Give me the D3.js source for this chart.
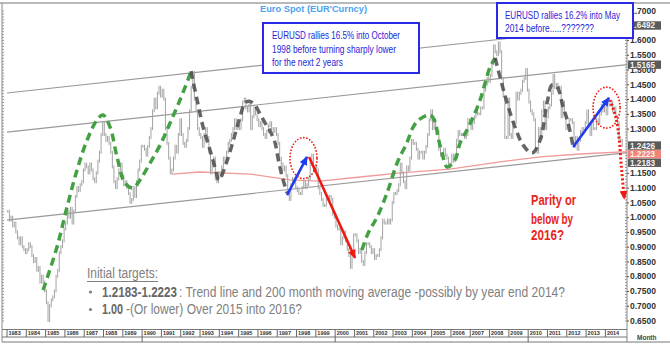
<!DOCTYPE html>
<html>
<head>
<meta charset="utf-8">
<script src="https://cdn.jsdelivr.net/npm/d3@7"></script>
<style>
  body { margin: 0; background: #fff; }
  svg { display: block; }
</style>
</head>
<body>
<script>
// monthly closes (Jan 1983 .. Nov 2014)
const close1980s = [
  1.02, 0.99, 1.00, 0.97, 0.98, 0.95, 0.93, 0.91, 0.93, 0.90, 0.89, 0.88,
  0.89, 0.91, 0.90, 0.87, 0.85, 0.86, 0.82, 0.83, 0.78, 0.80, 0.78, 0.75,
  0.71, 0.65, 0.70, 0.72, 0.73, 0.75, 0.80, 0.82, 0.88, 0.90, 0.92, 0.96,
  0.98, 1.02, 1.00, 1.03, 0.98, 1.02, 1.07, 1.10, 1.09, 1.11, 1.12, 1.16,
  1.18, 1.17, 1.15, 1.18, 1.16, 1.13, 1.12, 1.15, 1.19, 1.22, 1.28, 1.32,
  1.28, 1.26, 1.27, 1.25, 1.22, 1.17, 1.12, 1.10, 1.13, 1.16, 1.18, 1.14,
  1.11, 1.12, 1.10, 1.08, 1.05, 1.06, 1.10, 1.07, 1.12, 1.16, 1.19, 1.24
];
const close1990s = [
  1.24, 1.23, 1.21, 1.24, 1.27, 1.30, 1.36, 1.40, 1.37, 1.42, 1.44, 1.41,
  1.43, 1.40, 1.30, 1.25, 1.20, 1.15, 1.16, 1.20, 1.24, 1.22, 1.28, 1.33,
  1.28, 1.25, 1.24, 1.26, 1.30, 1.36, 1.44, 1.49, 1.40, 1.36, 1.30, 1.28,
  1.27, 1.24, 1.28, 1.30, 1.27, 1.22, 1.15, 1.18, 1.20, 1.13, 1.12, 1.15,
  1.14, 1.17, 1.20, 1.19, 1.22, 1.25, 1.26, 1.28, 1.30, 1.33, 1.30, 1.31,
  1.30, 1.33, 1.39, 1.40, 1.37, 1.36, 1.38, 1.30, 1.34, 1.37, 1.35, 1.33,
  1.31, 1.32, 1.30, 1.28, 1.27, 1.29, 1.31, 1.32, 1.30, 1.29, 1.30, 1.28,
  1.25, 1.20, 1.18, 1.16, 1.17, 1.14, 1.08, 1.06, 1.11, 1.13, 1.12, 1.10,
  1.09, 1.08, 1.08, 1.10, 1.12, 1.10, 1.11, 1.13, 1.18, 1.21, 1.16, 1.17,
  1.16, 1.10, 1.08, 1.06, 1.04, 1.04, 1.07, 1.06, 1.07, 1.06, 1.01, 1.00
];
const close2000s = [
  0.97, 0.96, 0.96, 0.91, 0.93, 0.95, 0.92, 0.89, 0.87, 0.83, 0.87, 0.94,
  0.94, 0.92, 0.88, 0.89, 0.85, 0.84, 0.88, 0.91, 0.91, 0.90, 0.88, 0.89,
  0.86, 0.87, 0.87, 0.89, 0.93, 0.99, 0.98, 0.98, 0.99, 0.98, 0.99, 1.05,
  1.08, 1.08, 1.09, 1.11, 1.18, 1.15, 1.12, 1.10, 1.17, 1.16, 1.20, 1.26,
  1.25, 1.25, 1.23, 1.20, 1.22, 1.22, 1.20, 1.22, 1.24, 1.28, 1.33, 1.36,
  1.30, 1.33, 1.30, 1.29, 1.23, 1.21, 1.21, 1.23, 1.21, 1.20, 1.17, 1.18,
  1.21, 1.19, 1.21, 1.26, 1.29, 1.28, 1.28, 1.28, 1.27, 1.28, 1.33, 1.32,
  1.30, 1.32, 1.34, 1.36, 1.35, 1.35, 1.37, 1.37, 1.43, 1.45, 1.47, 1.46,
  1.48, 1.52, 1.58, 1.56, 1.55, 1.59, 1.56, 1.47, 1.41, 1.27, 1.27, 1.40,
  1.28, 1.27, 1.32, 1.32, 1.42, 1.40, 1.42, 1.43, 1.46, 1.47, 1.50, 1.43
];
const close2010s = [
  1.39, 1.36, 1.35, 1.33, 1.23, 1.22, 1.30, 1.27, 1.36, 1.39, 1.30, 1.34,
  1.37, 1.38, 1.42, 1.48, 1.44, 1.45, 1.44, 1.44, 1.34, 1.39, 1.35, 1.30,
  1.31, 1.33, 1.33, 1.32, 1.24, 1.27, 1.23, 1.26, 1.29, 1.30, 1.30, 1.32,
  1.36, 1.31, 1.28, 1.32, 1.30, 1.30, 1.33, 1.32, 1.35, 1.38, 1.36, 1.38,
  1.35, 1.38, 1.38, 1.39, 1.36, 1.37, 1.34, 1.32, 1.26, 1.26, 1.2426
];

// 200 month moving average (red), [year, value]
const movingAvg = [[1991.55,1.146],[1993.0,1.153],[1995.6,1.146],[1997.66,1.126],[1999.2,1.122],
  [2001.3,1.136],[2003.4,1.150],[2005.95,1.163],[2008.54,1.187],[2010.62,1.204],[2012.69,1.214],[2015.12,1.2223]];

// trend channel: value at start (1983) and at the right edge
const channelYears = [1983, 2015.12];
const channelLower = [0.990, 1.2183];
const channelMiddle = [1.288, 1.5165];
const channelUpper = [1.4205, 1.6492];

// hand drawn swings
const greenSwing1 = [[1984.87,0.753],[1985.59,0.899],[1986.11,1.034],[1986.63,1.160],[1987.15,1.261],[1987.66,1.329],
  [1987.97,1.346],[1988.34,1.305],[1988.70,1.204],[1989.11,1.116],[1989.53,1.099],[1989.89,1.126],[1990.41,1.183],
  [1990.93,1.244],[1991.45,1.319],[1991.96,1.397],[1992.43,1.475],[1992.53,1.495]];
const blackSwing1 = [[1992.53,1.495],[1992.85,1.397],[1993.16,1.305],[1993.52,1.227],[1993.78,1.167],[1993.98,1.126],
  [1994.36,1.183],[1994.73,1.261],[1995.07,1.339],[1995.33,1.387],[1995.54,1.393],[1995.80,1.383],[1996.06,1.356],
  [1996.37,1.319],[1996.63,1.292],[1996.89,1.251],[1997.04,1.200],[1997.25,1.139],[1997.51,1.082]];
const greenSwing2 = [[2001.39,0.889],[2001.71,0.946],[2002.17,1.000],[2002.69,1.082],[2003.21,1.183],[2003.73,1.254],
  [2004.04,1.305],[2004.40,1.333],[2004.92,1.346],[2005.18,1.322],[2005.33,1.271],[2005.54,1.217],[2005.80,1.170],
  [2006.21,1.194],[2006.47,1.251],[2006.83,1.295],[2007.15,1.339],[2007.51,1.397],[2007.77,1.454],[2008.03,1.509],[2008.29,1.539]];
const blackSwing2 = [[2008.29,1.539],[2008.54,1.475],[2008.91,1.387],[2009.32,1.305],[2009.74,1.244],[2010.20,1.217],
  [2010.62,1.261],[2010.98,1.387],[2011.24,1.448],[2011.50,1.441],[2011.81,1.373],[2012.07,1.319],[2012.33,1.238]];

const arrowUp1998 = [[1997.51,1.075],[1998.54,1.204]];
const arrowDown2000 = [[1998.65,1.204],[2001.03,0.862]];
const arrowUp2014 = [[2012.33,1.238],[2014.19,1.404]];
const parityPath = [[2014.24,1.397],[2014.55,1.336],[2014.72,1.261],[2014.82,1.177],[2014.98,1.062]];
const circleCentres = [[1998.36,1.200],[2014.06,1.371]];

const priceTicks = [1.70,1.60,1.55,1.50,1.45,1.40,1.35,1.30,1.15,1.10,1.05,1.00,0.95,0.90,0.85,0.80,0.75,0.70,0.65];
const lastValues = [1.6492, 1.5165, 1.2426, 1.2223, 1.2183];
const lastColors = ["#5a5a5a", "#5a5a5a", "#5a5a5a", "#f08378", "#5a5a5a"];
const yearTicks = [1983,1984,1985,1986,1987,1988,1989,1990,1991,1992,1993,1994,1995,1996,1997,1998,
  1999,2000,2001,2002,2003,2004,2005,2006,2007,2008,2009,2010,2011,2012,2013,2014];
const decadeTicks = [1990, 2000, 2010];

const width = 670, height = 345;
const sans = "'Liberation Sans', Arial, sans-serif";
const narrow = "'Liberation Sans Narrow', 'Arial Narrow', 'Liberation Sans', sans-serif";

const x = d3.scaleLinear().domain([1983, 2015.12]).range([7, 627]);
const y = d3.scaleLinear().domain([0.65, 1.70]).range([320.5, 10.5]);

const svg = d3.select("body").append("svg")
  .attr("width", width)
  .attr("height", height)
  .style("font-family", sans);

const defs = svg.append("defs");
const addHead = (id, color, len, wid) => {
  defs.append("marker")
    .attr("id", id)
    .attr("markerUnits", "userSpaceOnUse")
    .attr("viewBox", `0 0 ${len} ${wid}`)
    .attr("refX", len - 1).attr("refY", wid / 2)
    .attr("markerWidth", len).attr("markerHeight", wid)
    .attr("orient", "auto")
    .append("path")
    .attr("d", `M0,0L${len},${wid / 2}L0,${wid}Z`)
    .attr("fill", color);
};
addHead("headBlue", "#1f3cf0", 9, 8);
addHead("headRed", "#ee1a12", 9, 8);
addHead("headDot", "#ee1a12", 9, 8);

const line = d3.line().x(d => x(d[0])).y(d => y(d[1]));
const curve = d3.line().x(d => x(d[0])).y(d => y(d[1])).curve(d3.curveCatmullRom);

// frame
svg.append("line").attr("x1", 0).attr("x2", width).attr("y1", 3).attr("y2", 3)
  .attr("stroke", "#777").attr("stroke-width", 1.2);
svg.append("line").attr("x1", 2).attr("x2", 2).attr("y1", 3).attr("y2", 342)
  .attr("stroke", "#888");
svg.append("line").attr("x1", 627).attr("x2", 627).attr("y1", 3).attr("y2", 342)
  .attr("stroke", "#888");

// minor ticks on both sides
const minorTicks = d3.range(65, 171).map(d => d / 100);
svg.append("g").attr("transform", "translate(2,0)")
  .call(d3.axisRight(y).tickValues(minorTicks).tickSize(2).tickFormat(""))
  .call(g => g.select(".domain").remove())
  .selectAll("line").attr("stroke", "#999");
svg.append("g").attr("transform", "translate(627,0)")
  .call(d3.axisLeft(y).tickValues(minorTicks).tickSize(2).tickFormat(""))
  .call(g => g.select(".domain").remove())
  .selectAll("line").attr("stroke", "#999");

// trend channel
[channelLower, channelMiddle, channelUpper].forEach(c => {
  svg.append("path")
    .attr("d", line([[channelYears[0], c[0]], [channelYears[1], c[1]]]))
    .attr("stroke", "#9a9a9a").attr("stroke-width", 1.2).attr("fill", "none");
});

// moving average
svg.append("path").attr("d", line(movingAvg))
  .attr("stroke", "#f29a9a").attr("stroke-width", 1.3).attr("fill", "none");

// price bars
const closes = close1980s.concat(close1990s, close2000s, close2010s);
const bars = closes.map((c, i) => {
  const open = i > 0 ? closes[i - 1] : c;
  return { t: 1983 + (i + 0.5) / 12, hi: Math.max(open, c), lo: Math.min(open, c) };
});
svg.append("g").selectAll("line").data(bars).join("line")
  .attr("x1", d => x(d.t)).attr("x2", d => x(d.t))
  .attr("y1", d => y(d.hi) - 1.5)
  .attr("y2", d => y(d.lo) + 1.5)
  .attr("stroke", "#a3a3a3").attr("stroke-width", 1);

// swings
[greenSwing1, greenSwing2].forEach(s => {
  svg.append("path").attr("d", curve(s)).attr("fill", "none")
    .attr("stroke", "#43a043").attr("stroke-width", 3.5).attr("stroke-dasharray", "8,5");
});
[blackSwing1, blackSwing2].forEach(s => {
  svg.append("path").attr("d", curve(s)).attr("fill", "none")
    .attr("stroke", "#4a4a4a").attr("stroke-opacity", 0.85)
    .attr("stroke-width", 3.5).attr("stroke-dasharray", "8,5");
});

// arrows
svg.append("path").attr("d", line(arrowUp1998)).attr("stroke", "#1f3cf0")
  .attr("stroke-width", 2.6).attr("fill", "none").attr("marker-end", "url(#headBlue)");
svg.append("path").attr("d", line(arrowUp2014)).attr("stroke", "#1f3cf0")
  .attr("stroke-width", 2.6).attr("fill", "none").attr("marker-end", "url(#headBlue)");
svg.append("path").attr("d", line(arrowDown2000)).attr("stroke", "#ee1a12")
  .attr("stroke-width", 2.6).attr("fill", "none").attr("marker-end", "url(#headRed)");
svg.append("path").attr("d", curve(parityPath)).attr("stroke", "#ee1a12")
  .attr("stroke-width", 3).attr("stroke-dasharray", "2,2.2").attr("fill", "none")
  .attr("marker-end", "url(#headDot)");

// dotted circles
svg.append("g").selectAll("ellipse").data(circleCentres).join("ellipse")
  .attr("cx", d => x(d[0])).attr("cy", d => y(d[1]))
  .attr("rx", 13.5).attr("ry", 20.5)
  .attr("fill", "none").attr("stroke", "#ee1a12")
  .attr("stroke-width", 1.6).attr("stroke-dasharray", "1.6,1.6");

// right axis labels
const axisR = svg.append("g").attr("transform", "translate(627,0)")
  .call(d3.axisRight(y).tickValues(priceTicks).tickFormat(d3.format(".4f")).tickSize(2).tickPadding(1));
axisR.select(".domain").remove();
axisR.selectAll("line").attr("stroke", "#555");
axisR.selectAll("text")
  .attr("font-family", sans).attr("font-size", 8.5).attr("font-weight", "bold").attr("fill", "#333");

// last value boxes, stacked so they don't overlap
let prevY = -100;
lastValues.forEach((v, i) => {
  const yy = Math.max(y(v), prevY + 8.6);
  prevY = yy;
  svg.append("rect").attr("x", 628).attr("y", yy - 4.2).attr("width", 33).attr("height", 8.4)
    .attr("fill", lastColors[i]);
  svg.append("text").attr("x", 630).attr("y", yy + 3)
    .attr("font-size", 8.2).attr("font-weight", "bold").attr("fill", "#f2f2f2")
    .text(d3.format(".4f")(v));
});

// year axis
svg.append("line").attr("x1", 2).attr("x2", 627).attr("y1", 329.5).attr("y2", 329.5).attr("stroke", "#777");
svg.append("line").attr("x1", 2).attr("x2", 627).attr("y1", 337).attr("y2", 337).attr("stroke", "#777");
svg.append("line").attr("x1", 2).attr("x2", 670).attr("y1", 342).attr("y2", 342).attr("stroke", "#777");
const yearG = svg.append("g");
yearG.selectAll("line").data(yearTicks).join("line")
  .attr("x1", d => x(d)).attr("x2", d => x(d))
  .attr("y1", 329.5).attr("y2", d => decadeTicks.includes(d) ? 342 : 337)
  .attr("stroke", "#666");
yearG.selectAll("text").data(yearTicks).join("text")
  .attr("x", d => x(d) + 1.5).attr("y", 335.3)
  .attr("font-size", 5.5).attr("font-weight", "bold").attr("fill", "#333")
  .text(d => d);
svg.append("text").attr("x", 637).attr("y", 340).attr("font-size", 6.5)
  .attr("font-weight", "bold").attr("fill", "#444").text("Month");

// title
svg.append("text").attr("x", 260).attr("y", 11.5)
  .attr("font-size", 8.5).attr("font-weight", "bold").attr("fill", "#4aa3f0")
  .attr("textLength", 107).attr("lengthAdjust", "spacingAndGlyphs")
  .text("Euro  Spot  (EUR'Curncy)");

// comment boxes
const box = (bx, by, bw, bh, lines) => {
  svg.append("rect").attr("x", bx).attr("y", by).attr("width", bw).attr("height", bh)
    .attr("fill", "#fff").attr("stroke", "#2a2ae6").attr("stroke-width", 2);
  lines.forEach(l => {
    svg.append("text").attr("x", l[0]).attr("y", l[1])
      .attr("font-family", narrow).attr("font-size", 10).attr("fill", "#2525d8")
      .attr("textLength", l[2]).attr("lengthAdjust", "spacingAndGlyphs")
      .text(l[3]);
  });
};
box(263, 23, 156, 50, [
  [272, 39, 128, "EURUSD rallies 16.5% into October"],
  [272, 52.5, 124, "1998 before turning  sharply lower"],
  [272, 65.5, 71, "for the next 2 years"]
]);
box(497, 3, 136, 35, [
  [505, 19, 115, "EURUSD rallies 16.2% into May"],
  [505, 31.5, 89, "2014 before.....???????"]
]);

// parity call
[["Parity or", 205, 45], ["below by", 224, 42], ["2016?", 240, 33]].forEach(t => {
  svg.append("text").attr("x", 531).attr("y", t[1])
    .attr("font-family", narrow).attr("font-size", 14).attr("font-weight", "bold")
    .attr("fill", "#e8231a").attr("textLength", t[2]).attr("lengthAdjust", "spacingAndGlyphs")
    .text(t[0]);
});

// targets text
const note = (tx, ty, len, str, bold, color) => {
  svg.append("text").attr("x", tx).attr("y", ty)
    .attr("font-family", narrow).attr("font-size", 14)
    .attr("font-weight", bold ? "bold" : "normal").attr("fill", color)
    .attr("textLength", len).attr("lengthAdjust", "spacingAndGlyphs")
    .text(str);
};
note(87, 278, 71, "Initial targets:", false, "#808080");
svg.append("line").attr("x1", 87).attr("x2", 158).attr("y1", 281.5).attr("y2", 281.5)
  .attr("stroke", "#808080").attr("stroke-width", 1);
svg.append("circle").attr("cx", 90.5).attr("cy", 292).attr("r", 1.6).attr("fill", "#808080");
svg.append("circle").attr("cx", 90.5).attr("cy", 309.5).attr("r", 1.6).attr("fill", "#808080");
note(102, 296.5, 75, "1.2183-1.2223", true, "#666");
note(179, 296.5, 386, ": Trend line and 200 month moving average -possibly by year end 2014?", false, "#808080");
note(102, 314, 21, "1.00", true, "#666");
note(126, 314, 176, "-(Or lower) Over 2015 into 2016?", false, "#808080");
</script>
</body>
</html>
